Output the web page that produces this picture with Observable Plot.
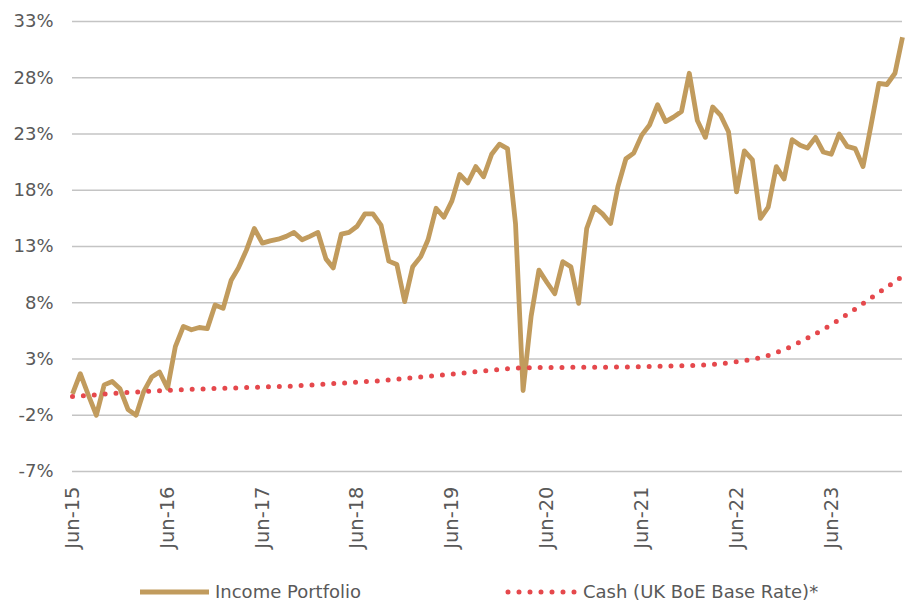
<!DOCTYPE html>
<html>
<head>
<meta charset="utf-8">
<script src="https://cdn.jsdelivr.net/npm/d3@7"></script>
<script src="https://cdn.jsdelivr.net/npm/@observablehq/plot@0.6"></script>
<style>
  html, body { margin: 0; padding: 0; background: #ffffff; }
  #wrap { width: 906px; height: 601px; position: relative; overflow: hidden; }
  #legend { display: block; }
</style>
</head>
<body>
<div id="wrap">
  <div id="chart"></div>
  <svg id="legend" width="906" height="23"></svg>
</div>
<script>
// ---- Data ----
// Income Portfolio cumulative return (%), monthly from Jun-2015 to Mar-2024
const portfolioStart = "2015-06";
const portfolio = [
  -0.1, 1.7, -0.2, -2.0, 0.7, 1.0, 0.35, -1.5, -2.0, 0.1, 1.4, 1.85,
  0.4, 4.1, 5.9, 5.6, 5.8, 5.7, 7.8, 7.5, 10.0, 11.1, 12.7, 14.6,
  13.3, 13.5, 13.65, 13.9, 14.25, 13.6, 13.9, 14.25, 11.9, 11.1, 14.1, 14.25,
  14.8, 15.9, 15.9, 14.9, 11.7, 11.4, 8.1, 11.2, 12.1, 13.6, 16.4, 15.6,
  17.05, 19.4, 18.65, 20.1, 19.2, 21.2, 22.1, 21.7, 15.0, 0.2, 6.8, 10.9,
  9.8, 8.8, 11.65, 11.2, 7.95, 14.6, 16.5, 15.9, 15.05, 18.3, 20.8, 21.3,
  22.9, 23.8, 25.6, 24.1, 24.5, 25.0, 28.4, 24.2, 22.7, 25.4, 24.65, 23.2,
  17.85, 21.5, 20.7, 15.5, 16.5, 20.1, 19.0, 22.5, 22.0, 21.76, 22.7, 21.4,
  21.2, 23.0, 21.9, 21.7, 20.1, 23.8, 27.5, 27.4, 28.4, 31.6
];

// Cash (UK BoE Base Rate) cumulative return (%), read quarterly
const cashDates = [
  "2015-06","2015-09","2015-12","2016-03","2016-06","2016-09","2016-12","2017-03",
  "2017-06","2017-09","2017-12","2018-03","2018-06","2018-09","2018-12","2019-03",
  "2019-06","2019-09","2019-12","2020-03","2020-06","2020-09","2020-12","2021-03",
  "2021-06","2021-09","2021-12","2022-03","2022-06","2022-09","2022-12","2023-03",
  "2023-06","2023-09","2023-12","2024-03"
];
const cashValues = [
  -0.33, -0.18, -0.02, 0.1, 0.22, 0.3, 0.37, 0.44,
  0.51, 0.57, 0.68, 0.81, 0.94, 1.08, 1.26, 1.45,
  1.65, 1.87, 2.06, 2.22, 2.24, 2.26, 2.27, 2.28,
  2.32, 2.36, 2.41, 2.52, 2.76, 3.13, 3.83, 4.86,
  6.06, 7.45, 8.9, 10.35
];

const seriesNames = ["Income Portfolio", "Cash (UK BoE Base Rate)*"];
const seriesColors = ["#C19B5D", "#E5484C"];

const yTicks = [-7, -2, 3, 8, 13, 18, 23, 28, 33];
const xTickLabels = ["2015-06","2016-06","2017-06","2018-06","2019-06","2020-06","2021-06","2022-06","2023-06"];

// ---- Build tables ----
const parse = d3.utcParse("%Y-%m");
const p0 = parse(portfolioStart);
const portfolioData = portfolio.map((v, i) => ({ date: d3.utcMonth.offset(p0, i), value: v }));
const cashData = cashDates.map((d, i) => ({ date: parse(d), value: cashValues[i] }));
const xTicks = xTickLabels.map(parse);
const xEnd = d3.utcMonth.offset(p0, portfolio.length - 1);

const textColor = "#595959";
const font = "'DejaVu Sans', sans-serif";

const chart = Plot.plot({
  width: 906,
  height: 578,
  marginTop: 21,
  marginBottom: 107,
  marginLeft: 72,
  marginRight: 4,
  style: { fontFamily: font, fontSize: "18px", color: textColor, background: "#ffffff", overflow: "visible" },
  x: { type: "utc", domain: [p0, xEnd] },
  y: { domain: [-7, 33] },
  marks: [
    Plot.ruleY(yTicks, { stroke: "#c4c4c4", strokeWidth: 1.3 }),
    Plot.axisY({ ticks: yTicks, tickFormat: d => d + "%", tickSize: 0, tickPadding: 19, label: null, fontSize: 18, fill: textColor }),
    Plot.axisX({ ticks: xTicks, tickFormat: d3.utcFormat("%b-%y"), tickRotate: -90, tickSize: 0, tickPadding: 15, label: null, fontSize: 19.5, fill: textColor }),
    Plot.line(portfolioData, { x: "date", y: "value", stroke: seriesColors[0], strokeWidth: 4.8, strokeLinejoin: "round", strokeLinecap: "butt" }),
    Plot.line(cashData, { x: "date", y: "value", stroke: seriesColors[1], strokeWidth: 5, strokeDasharray: "0,10.9", strokeLinecap: "round", curve: "monotone-x" })
  ]
});
document.getElementById("chart").appendChild(chart);

// ---- Legend below the chart ----
const legend = d3.select("#legend");
const ly = 14;
legend.append("line").attr("x1", 140).attr("x2", 209).attr("y1", ly).attr("y2", ly)
  .attr("stroke", seriesColors[0]).attr("stroke-width", 5);
legend.append("text").attr("x", 215).attr("y", ly).attr("dy", "0.35em")
  .attr("font-family", font).attr("font-size", 18).attr("fill", textColor).text(seriesNames[0]);
legend.append("line").attr("x1", 508).attr("x2", 575).attr("y1", ly).attr("y2", ly)
  .attr("stroke", seriesColors[1]).attr("stroke-width", 5)
  .attr("stroke-dasharray", "0,11").attr("stroke-linecap", "round");
legend.append("text").attr("x", 583).attr("y", ly).attr("dy", "0.35em")
  .attr("font-family", font).attr("font-size", 18).attr("fill", textColor).text(seriesNames[1]);
</script>
</body>
</html>
